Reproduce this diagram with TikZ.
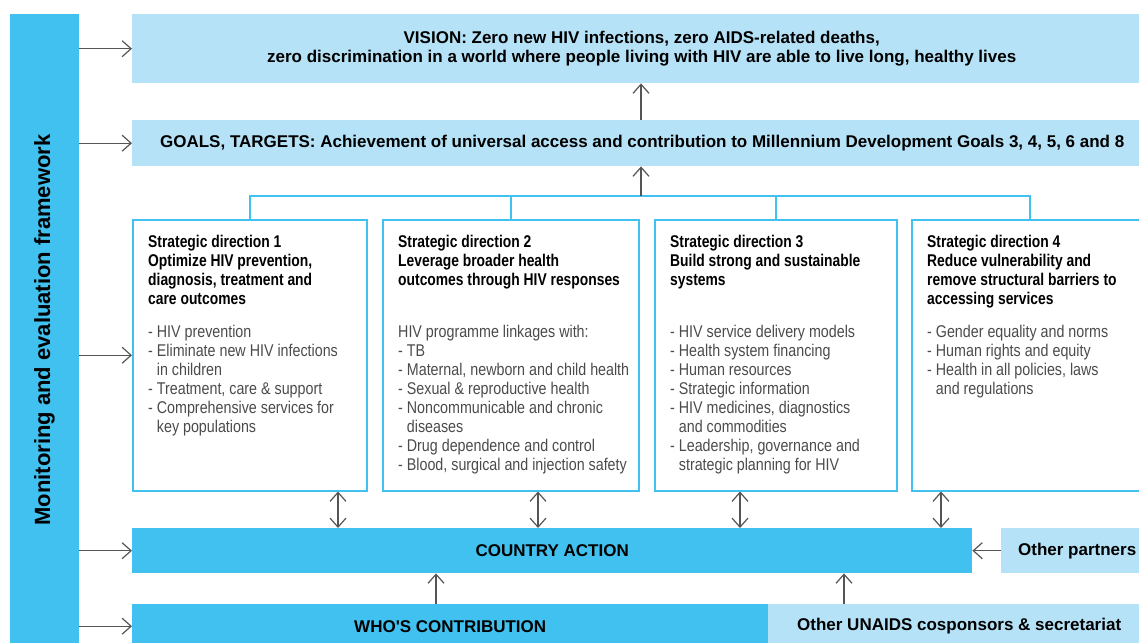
\documentclass[tikz,border=0pt]{standalone}
\usepackage{fontspec}
\setmainfont[FakeStretch=0.815]{Liberation Sans}
\newfontfamily\barfont{Liberation Sans}
\newfontfamily\listfont[FakeStretch=0.84]{Liberation Sans}
\usetikzlibrary{arrows.meta}

\definecolor{whoblue}{RGB}{64,193,240}
\definecolor{wholight}{RGB}{181,226,247}
\definecolor{arrgray}{RGB}{85,85,85}
\definecolor{listgray}{RGB}{75,75,75}

\newcommand{\hind}{\phantom{- }}

\begin{document}
\begin{tikzpicture}[x=1pt, y=-1pt,
    dark/.style={fill=whoblue, inner sep=0, font=\barfont\fontsize{17}{19}\selectfont\bfseries},
    light/.style={fill=wholight, inner sep=0, align=center, font=\barfont\fontsize{17}{19}\selectfont\bfseries},
    sdbox/.style={draw=whoblue, line width=1.5pt, anchor=north west, minimum height=271, inner sep=0},
    sdtitle/.style={anchor=north west, inner sep=0, align=left, font=\fontsize{17}{19}\selectfont\bfseries},
    sdlist/.style={anchor=north west, inner sep=0, align=left, text=listgray, font=\listfont\fontsize{17}{19}\selectfont},
    arr/.style={draw=arrgray, line width=1.2pt, -{Straight Barb[length=9pt, width=16pt]}},
    dbl/.style={arr, {Straight Barb[length=9pt, width=16pt]}-{Straight Barb[length=9pt, width=16pt]}},
    tree/.style={draw=whoblue, line width=1.5pt}]
    \useasboundingbox (0,0) rectangle (1139,642);

    % Vision and goals
    \node[light, anchor=north west, minimum width=1019, minimum height=69] (vision) at (132,14)
        {VISION: Zero new HIV infections, zero AIDS-related deaths,\\zero discrimination in a world where people living with HIV are able to live long, healthy lives};
    \node[light, anchor=north west, minimum width=1020, minimum height=46] (goals) at (132,120)
        {GOALS, TARGETS: Achievement of universal access and contribution to Millennium Development Goals 3, 4, 5, 6 and 8};

    % M&E bar
    \node[dark, rotate=90, minimum width=632, minimum height=69, font=\barfont\fontsize{22}{24}\selectfont\bfseries] (mef) at (44.5,330)
        {Monitoring and evaluation framework};

    % Strategic directions
    \node[sdbox, minimum width=234] (sd1) at (132,219) {};
    \node[sdbox, minimum width=256] (sd2) at (382,219) {};
    \node[sdbox, minimum width=242] (sd3) at (654,219) {};
    \node[sdbox, minimum width=236] (sd4) at (911,219) {};

    \node[sdtitle] (sd1t) at ([shift={(16,16)}]sd1.north west)
        {Strategic direction 1\\Optimize HIV prevention,\\diagnosis, treatment and\\care outcomes};
    \node[sdtitle] (sd2t) at ([shift={(16,16)}]sd2.north west)
        {Strategic direction 2\\Leverage broader health\\outcomes through HIV responses};
    \node[sdtitle] (sd3t) at ([shift={(16,16)}]sd3.north west)
        {Strategic direction 3\\Build strong and sustainable\\systems};
    \node[sdtitle] (sd4t) at ([shift={(16,16)}]sd4.north west)
        {Strategic direction 4\\Reduce vulnerability and\\remove structural barriers to\\accessing services};

    \node[sdlist] (sd1l) at ([shift={(16,106)}]sd1.north west)
        {- HIV prevention\\- Eliminate new HIV infections\\\hind in children\\- Treatment, care \& support\\- Comprehensive services for\\\hind key populations};
    \node[sdlist] (sd2l) at ([shift={(16,106)}]sd2.north west)
        {HIV programme linkages with:\\- TB\\- Maternal, newborn and child health\\- Sexual \& reproductive health\\- Noncommunicable and chronic\\\hind diseases\\- Drug dependence and control\\- Blood, surgical and injection safety};
    \node[sdlist] (sd3l) at ([shift={(16,106)}]sd3.north west)
        {- HIV service delivery models\\- Health system financing\\- Human resources\\- Strategic information\\- HIV medicines, diagnostics\\\hind and commodities\\- Leadership, governance and\\\hind strategic planning for HIV};
    \node[sdlist] (sd4l) at ([shift={(16,106)}]sd4.north west)
        {- Gender equality and norms\\- Human rights and equity\\- Health in all policies, laws\\\hind and regulations};

    % Country action and contributions
    \node[dark, anchor=north west, minimum width=840, minimum height=45] (country) at (132,528) {COUNTRY ACTION};
    \node[light, anchor=north west, minimum width=152, minimum height=45] (partners) at (1001,528) {Other partners};
    \node[dark, anchor=north west, minimum width=636, minimum height=44] (who) at (132,604) {WHO\textquotesingle S CONTRIBUTION};
    \node[light, anchor=north west, minimum width=382, minimum height=44] (unaids) at (768,604) {Other UNAIDS cosponsors \& secretariat};

    % Tree to the goals
    \coordinate (junc) at (641,196);
    \draw[tree] (sd1.north) |- (junc) -| (sd4.north);
    \draw[tree] (sd2.north) -- (sd2.north |- junc);
    \draw[tree] (sd3.north) -- (sd3.north |- junc);
    \draw[arr] (junc) -- (goals.south -| junc);
    \draw[arr] (goals.north -| junc) -- (vision.south -| junc);

    % Arrows from the bar
    \foreach \t in {vision, goals, sd1, country, who}
        \draw[arr] (mef.south |- \t.west) -- (\t.west);

    % Links to country action
    \foreach \b/\x in {sd1/338, sd2/538, sd3/740, sd4/941} {
        \coordinate (da) at (\x,0);
        \draw[dbl] (\b.south -| da) -- (country.north -| da);
    }
    \coordinate (wa) at (436,0);
    \coordinate (ua) at (844,0);
    \draw[arr] (who.north -| wa) -- (country.south -| wa);
    \draw[arr] (unaids.north -| ua) -- (country.south -| ua);
    \draw[arr] (partners.west) -- (country.east);
\end{tikzpicture}
\end{document}
